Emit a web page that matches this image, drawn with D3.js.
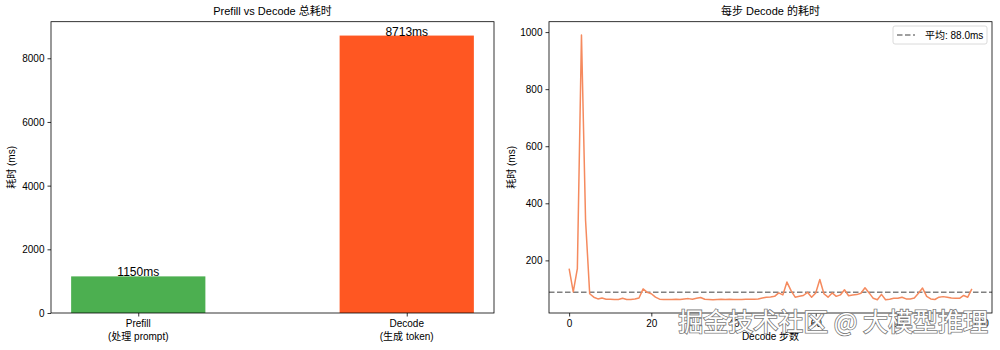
<!DOCTYPE html>
<html>
<head>
<meta charset="utf-8">
<script src="https://cdn.jsdelivr.net/npm/d3@7"></script>
<style>
  html, body { margin: 0; padding: 0; background: #fff; }
  svg text { font-family: "Liberation Sans", Arial, "Noto Sans CJK SC", sans-serif; fill: #000; }
</style>
</head>
<body>
<svg id="chart" width="1000" height="350"></svg>
<script>
// ---- data ----
const barCategories = ["Prefill\n(处理 prompt)", "Decode\n(生成 token)"];
const barValues = [1150, 8713];
const barColors = ["#4CAF50", "#FF5722"];
const barYTicks = [0, 2000, 4000, 6000, 8000];

const stepTimes = [
  171, 90, 171, 990, 340, 83, 71, 65, 68, 64,
  64, 63, 63, 67, 63, 63, 65, 68, 100, 88,
  83, 71, 64, 63, 63, 63, 64, 63, 65, 66,
  64, 67, 70, 64, 63, 62, 63, 64, 63, 64,
  63, 63, 63, 64, 64, 64, 65, 68, 71, 72,
  74, 86, 79, 124, 94, 71, 74, 77, 88, 71,
  86, 133, 83, 71, 86, 74, 79, 97, 76, 79,
  80, 85, 104, 86, 67, 62, 81, 62, 64, 67,
  67, 71, 65, 65, 68, 85, 103, 74, 65, 63,
  71, 73, 71, 68, 67, 67, 77, 71, 100
];
const meanStep = 88.0;
const lineXTicks = [0, 20, 40, 60, 80, 100];
const lineYTicks = [200, 400, 600, 800, 1000];

const titles = ["Prefill vs Decode 总耗时", "每步 Decode 的耗时"];
const yLabel = "耗时 (ms)";
const xLabelRight = "Decode 步数";
const legendLabel = "平均: " + meanStep.toFixed(1) + "ms";
const watermark = "掘金技术社区 @ 大模型推理";

// ---- layout ----
const svg = d3.select("#chart");
const topY = 21.7, bottomY = 313;
const L = { left: 51, right: 494 };
const R = { left: 549, right: 992 };
const tickLen = 3.5;

function frame(g, box) {
  g.append("rect").attr("x", box.left).attr("y", topY)
    .attr("width", box.right - box.left).attr("height", bottomY - topY)
    .attr("fill", "none").attr("stroke", "#000").attr("stroke-width", 0.8);
}

// ===== Left chart: bars =====
const gL = svg.append("g");
const xb = d3.scaleLinear().domain([-0.325, 1.325]).range([L.left, L.right]);
const yb = d3.scaleLinear().domain([0, d3.max(barValues) * 1.05]).range([bottomY, topY]);
const barW = 0.5;

gL.selectAll("rect.bar").data(barValues).join("rect")
  .attr("class", "bar")
  .attr("x", (d, i) => xb(i - barW / 2))
  .attr("width", (d, i) => xb(i + barW / 2) - xb(i - barW / 2))
  .attr("y", d => yb(d))
  .attr("height", d => yb(0) - yb(d))
  .attr("fill", (d, i) => barColors[i]);

gL.selectAll("text.blabel").data(barValues).join("text")
  .attr("class", "blabel")
  .attr("x", (d, i) => xb(i))
  .attr("y", d => yb(d))
  .attr("text-anchor", "middle")
  .attr("font-size", 12)
  .text(d => d + "ms");

frame(gL, L);

const yAxisL = gL.append("g").attr("transform", `translate(${L.left},0)`)
  .call(d3.axisLeft(yb).tickValues(barYTicks).tickSize(tickLen).tickPadding(3).tickFormat(d3.format("d")));
yAxisL.select(".domain").remove();
yAxisL.selectAll("text").attr("font-size", 10).attr("dy", "0.35em");
yAxisL.selectAll("line").attr("stroke", "#000").attr("stroke-width", 0.8);

const xAxisL = gL.append("g").attr("transform", `translate(0,${bottomY})`)
  .call(d3.axisBottom(xb).tickValues([0, 1]).tickSize(tickLen).tickFormat(""));
xAxisL.select(".domain").remove();
xAxisL.selectAll("line").attr("stroke", "#000").attr("stroke-width", 0.8);
barCategories.forEach((c, i) => {
  const lines = c.split("\n");
  const t = gL.append("text").attr("x", xb(i)).attr("y", bottomY + 14)
    .attr("text-anchor", "middle").attr("font-size", 10);
  lines.forEach((ln, j) => {
    t.append("tspan").attr("x", xb(i)).attr("dy", j === 0 ? 0 : 12.5).text(ln);
  });
});

gL.append("text").attr("transform", `translate(15,${(topY + bottomY) / 2}) rotate(-90)`)
  .attr("text-anchor", "middle").attr("font-size", 10).text(yLabel);
gL.append("text").attr("x", (L.left + L.right) / 2).attr("y", 15)
  .attr("text-anchor", "middle").attr("font-size", 11).text(titles[0]);

// ===== Right chart: line =====
const gR = svg.append("g");
const n = stepTimes.length - 1;
const xl = d3.scaleLinear().domain([-0.05 * n, 1.05 * n]).range([R.left, R.right]);
const ymin = d3.min(stepTimes), ymax = d3.max(stepTimes);
const pad = (ymax - ymin) * 0.05;
const yl = d3.scaleLinear().domain([ymin - pad, ymax + pad]).range([bottomY, topY]);

gR.append("line")
  .attr("x1", R.left).attr("x2", R.right)
  .attr("y1", yl(meanStep)).attr("y2", yl(meanStep))
  .attr("stroke", "#808080").attr("stroke-width", 1.5)
  .attr("stroke-dasharray", "5.5,2.5");

gR.append("path").datum(stepTimes)
  .attr("d", d3.line().x((d, i) => xl(i)).y(d => yl(d)))
  .attr("fill", "none").attr("stroke", "#F58A5E").attr("stroke-width", 1.5)
  .attr("stroke-linejoin", "round");

frame(gR, R);

const yAxisR = gR.append("g").attr("transform", `translate(${R.left},0)`)
  .call(d3.axisLeft(yl).tickValues(lineYTicks).tickSize(tickLen).tickPadding(3).tickFormat(d3.format("d")));
yAxisR.select(".domain").remove();
yAxisR.selectAll("text").attr("font-size", 10).attr("dy", "0.35em");
yAxisR.selectAll("line").attr("stroke", "#000").attr("stroke-width", 0.8);

const xAxisR = gR.append("g").attr("transform", `translate(0,${bottomY})`)
  .call(d3.axisBottom(xl).tickValues(lineXTicks).tickSize(tickLen).tickPadding(3).tickFormat(d3.format("d")));
xAxisR.select(".domain").remove();
xAxisR.selectAll("text").attr("font-size", 10);
xAxisR.selectAll("line").attr("stroke", "#000").attr("stroke-width", 0.8);

gR.append("text").attr("x", (R.left + R.right) / 2).attr("y", 340)
  .attr("text-anchor", "middle").attr("font-size", 10).text(xLabelRight);
gR.append("text").attr("transform", `translate(515,${(topY + bottomY) / 2}) rotate(-90)`)
  .attr("text-anchor", "middle").attr("font-size", 10).text(yLabel);
gR.append("text").attr("x", (R.left + R.right) / 2).attr("y", 15)
  .attr("text-anchor", "middle").attr("font-size", 11).text(titles[1]);

// legend
const lg = gR.append("g");
lg.append("rect").attr("x", 893).attr("y", 26).attr("width", 94).attr("height", 18)
  .attr("rx", 2).attr("fill", "#fff").attr("fill-opacity", 0.8)
  .attr("stroke", "#d0d0d0").attr("stroke-width", 0.8);
lg.append("line").attr("x1", 897).attr("x2", 915).attr("y1", 35).attr("y2", 35)
  .attr("stroke", "#808080").attr("stroke-width", 1.5).attr("stroke-dasharray", "5.5,2.5");
lg.append("text").attr("x", 925).attr("y", 38.5).attr("font-size", 10).text(legendLabel);

// watermark
svg.append("text").attr("x", 988).attr("y", 331)
  .attr("text-anchor", "end").attr("font-size", 25)
  .style("font-family", "'Noto Sans CJK SC', sans-serif")
  .style("fill", "#fff").attr("stroke", "#7a7a7a").attr("stroke-width", 1.6)
  .attr("paint-order", "stroke")
  .text(watermark);
</script>
</body>
</html>
